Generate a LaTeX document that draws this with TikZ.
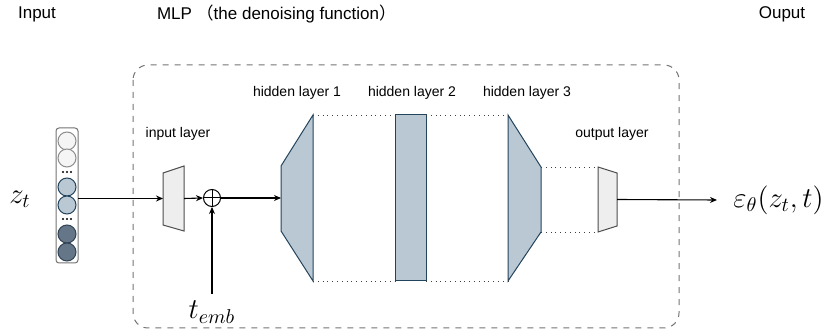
\documentclass[tikz,border=0pt]{standalone}
\usepackage{fontspec}
\setmainfont{Liberation Sans}
\newfontfamily\cjk{Noto Sans CJK SC}
\usetikzlibrary{calc,arrows.meta}
\definecolor{bluefill}{HTML}{BAC8D3}
\definecolor{blueline}{HTML}{23445D}
\definecolor{darkfill}{HTML}{647687}
\definecolor{darkline}{HTML}{314354}
\definecolor{greyfill}{HTML}{EEEEEE}
\definecolor{whitefill}{HTML}{F5F5F5}
\begin{document}
\begin{tikzpicture}[x=0.5pt,y=-0.5pt,
    title/.style={font=\fontsize{8.5}{9}\selectfont},
    lbl/.style={font=\fontsize{7}{8}\selectfont},
    frame/.style={inner sep=0pt,outer sep=0pt},
    hidden/.style={draw=blueline,fill=bluefill,line width=0.5pt},
    plain/.style={draw=black!70,fill=greyfill,line width=0.5pt},
    unit/.style={circle,draw,inner sep=0pt,minimum size=9pt,line width=0.5pt},
    link/.style={-{Stealth[length=3.5pt,width=3pt]},line width=0.55pt},
    gap/.style={dotted,black!75,line width=0.4pt}]
    \useasboundingbox (0,0) rectangle (825,331);
    % titles
    \node[title] (tin) at (37,14) {Input};
    \node[title,anchor=west] (tmlp) at (150,14) {MLP {\cjk （}the denoising function{\cjk ）}};
    \node[title] (tout) at (782,14) {Ouput};
    \draw[dashed,black!55,rounded corners=7.5pt,line width=0.5pt] (133,65) rectangle (679,328);
    % input vector
    \node[frame,draw=black!55,fill=white,rounded corners=1.5pt,minimum width=11pt,minimum height=67.5pt,line width=0.5pt] (vec) at (67,195.5) {};
    \node[unit,draw=black!45,fill=whitefill] (c1) at (67,141) {};
    \node[unit,draw=black!45,fill=whitefill] (c2) at (67,158) {};
    \node[unit,draw=blueline,fill=bluefill] (c3) at (67,187) {};
    \node[unit,draw=blueline,fill=bluefill] (c4) at (67,205) {};
    \node[unit,draw=darkline,fill=darkfill] (c5) at (67,234) {};
    \node[unit,draw=darkline,fill=darkfill] (c6) at (67,252) {};
    \foreach \dx in {-4,0,4} {
        \fill (67+\dx,172) circle (0.6pt);
        \fill (67+\dx,219) circle (0.6pt);
    }
    \node[font=\Large] (zt) at (20,199) {$z_t$};
    % input layer
    \node[frame,minimum width=10.5pt,minimum height=32.5pt] (inl) at (173.5,198.5) {};
    \draw[plain] ($(inl.north west)+(0,7)$) -- (inl.north east) -- (inl.south east) -- ($(inl.south west)+(0,-6)$) -- cycle;
    \node[lbl] (inlbl) at (178,134) {input layer};
    \node[circle,draw,inner sep=0pt,minimum size=8.5pt,line width=0.5pt] (add) at (212,198) {};
    \draw[line width=0.5pt] (add.north) -- (add.south) (add.west) -- (add.east);
    \node[font=\Large,anchor=north] (temb) at (212,294) {$t_{emb}$};
    % hidden layers
    \node[frame,minimum width=16pt,minimum height=83pt] (h1) at (297,198) {};
    \draw[hidden] ($(h1.north west)+(0,51)$) -- (h1.north east) -- (h1.south east) -- ($(h1.south west)+(0,-50)$) -- cycle;
    \node[lbl] (h1lbl) at (297,93) {hidden layer 1};
    \node[frame,hidden,minimum width=15.5pt,minimum height=83pt] (h2) at (410.5,198) {};
    \node[lbl] (h2lbl) at (412,93) {hidden layer 2};
    \node[frame,minimum width=16.5pt,minimum height=83pt] (h3) at (524.5,198) {};
    \draw[hidden] (h3.north west) -- ($(h3.north east)+(0,52)$) -- ($(h3.south east)+(0,-49)$) -- (h3.south west) -- cycle;
    \node[lbl] (h3lbl) at (527,93) {hidden layer 3};
    % output layer
    \node[frame,minimum width=9.5pt,minimum height=32.5pt] (outl) at (607.5,199.5) {};
    \draw[plain] (outl.north west) -- ($(outl.north east)+(0,6)$) -- ($(outl.south east)+(0,-6)$) -- (outl.south west) -- cycle;
    \node[lbl] (outlbl) at (612,134) {output layer};
    \node[font=\Large,anchor=west,inner xsep=8pt] (eps) at (717,200) {$\varepsilon_\theta(z_t,t)$};
    % connectors
    \draw[link] (inl.west -| vec.east) -- (inl.west);
    \draw[link] (inl.east) -- (add.west);
    \draw[link] (add.east) -- (h1.west);
    \draw[link] (temb.north) -- (add.south);
    \draw[link] (outl.east) -- (eps.west);
    \draw[gap] (h1.north east) -- (h2.north west) (h1.south east) -- (h2.south west);
    \draw[gap] (h2.north east) -- (h3.north west) (h2.south east) -- (h3.south west);
    \draw[gap] ($(h3.north east)+(0,52)$) -- (outl.north west) ($(h3.south east)+(0,-49)$) -- (outl.south west);
\end{tikzpicture}
\end{document}
